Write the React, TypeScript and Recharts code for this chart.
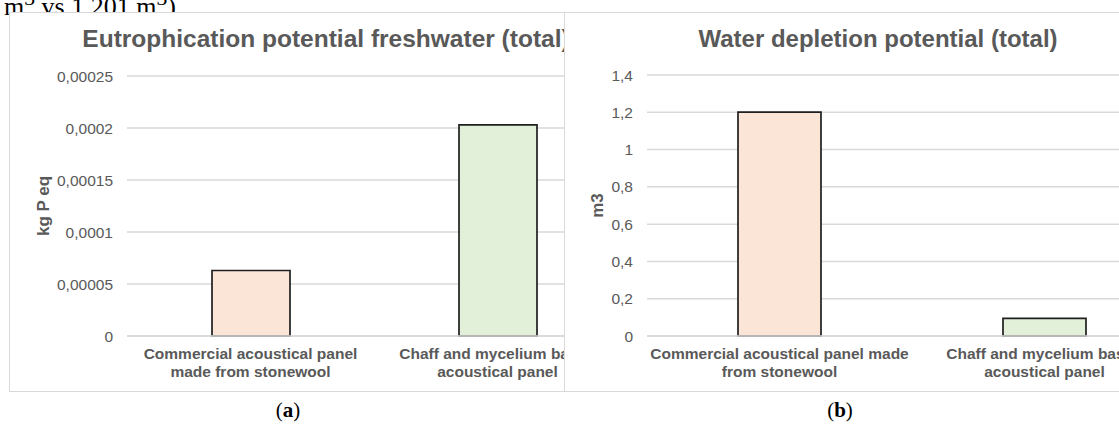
import React from "react";
import { BarChart, Bar, XAxis, YAxis, CartesianGrid, Cell } from "recharts";

// Products compared in both panels
const products = ["Stonewool panel", "Chaff and mycelium panel"];

// How each panel wraps its category labels
const labelsA = [
  ["Commercial acoustical panel", "made from stonewool"],
  ["Chaff and mycelium based", "acoustical panel"],
];
const labelsB = [
  ["Commercial acoustical panel made", "from stonewool"],
  ["Chaff and mycelium based", "acoustical panel"],
];

// Series values
const eutrophication = [0.000063, 0.000203]; // kg P eq
const waterDepletion = [1.201, 0.095]; // m3

// Axis ticks
const ticksA = [0, 0.00005, 0.0001, 0.00015, 0.0002, 0.00025];
const ticksB = [0, 0.2, 0.4, 0.6, 0.8, 1, 1.2, 1.4];

const barColors = ["#FBE5D6", "#E2F0D9"];

const FONT = '"Liberation Sans", Arial, sans-serif';
const SERIF = '"Liberation Serif", "Times New Roman", serif';
const GREY = "#595959";

const dataA = products.map((name, i) => ({ name, value: eutrophication[i] }));
const dataB = products.map((name, i) => ({ name, value: waterDepletion[i] }));

// decimal comma like the original spreadsheet
const commaFormat = (v: number) => String(v).replace(".", ",");

function CategoryTick(props: any) {
  const { x, y, payload, labels } = props;
  const lines: string[] = labels[payload.index] || [payload.value];
  return (
    <text
      x={x}
      y={y}
      textAnchor="middle"
      fill={GREY}
      fontFamily={FONT}
      fontSize={15.5}
      fontWeight="bold"
    >
      {lines.map((line, i) => (
        <tspan key={i} x={x} y={y + 23 + i * 18}>
          {line}
        </tspan>
      ))}
    </text>
  );
}

type PanelProps = {
  title: string;
  titleX: number;
  titleSize: number;
  unit: string;
  data: { name: string; value: number }[];
  labels: string[][];
  ticks: number[];
  width: number;
  top: number;
  right: number;
  yWidth: number;
  barSize: number;
  unitOffset: number;
};

function Panel({
  title,
  titleX,
  titleSize,
  unit,
  data,
  labels,
  ticks,
  width,
  top,
  right,
  yWidth,
  barSize,
  unitOffset,
}: PanelProps) {
  return (
    <BarChart
      width={width}
      height={379}
      data={data}
      margin={{ top, right, left: 0, bottom: 0 }}
    >
      <text
        x={titleX}
        y={35}
        textAnchor="middle"
        fill={GREY}
        fontFamily={FONT}
        fontSize={titleSize}
        fontWeight="bold"
      >
        {title}
      </text>
      <CartesianGrid vertical={false} stroke="#D9D9D9" strokeWidth={1.5} />
      <XAxis
        dataKey="name"
        height={55}
        tickLine={false}
        tickSize={0}
        tickMargin={0}
        axisLine={{ stroke: "#D9D9D9", strokeWidth: 1.5 }}
        interval={0}
        tick={(p: any) => <CategoryTick {...p} labels={labels} />}
      />
      <YAxis
        width={yWidth}
        domain={[ticks[0], ticks[ticks.length - 1]]}
        ticks={ticks}
        interval={0}
        axisLine={false}
        tickLine={false}
        tickSize={0}
        tickMargin={14}
        tickFormatter={commaFormat}
        tick={{ fill: GREY, fontSize: 15.5, fontFamily: FONT }}
        label={{
          value: unit,
          angle: -90,
          position: "insideLeft",
          offset: unitOffset,
          style: {
            textAnchor: "middle",
            fill: GREY,
            fontSize: 17,
            fontWeight: "bold",
            fontFamily: FONT,
          },
        }}
      />
      <Bar
        dataKey="value"
        barSize={barSize}
        stroke="#1F1F1F"
        strokeWidth={1.7}
        isAnimationActive={false}
      >
        {data.map((_, i) => (
          <Cell key={i} fill={barColors[i]} />
        ))}
      </Bar>
    </BarChart>
  );
}

const frame: React.CSSProperties = {
  position: "absolute",
  top: 12,
  height: 380,
  overflow: "hidden",
  boxSizing: "border-box",
  border: "1px solid #D9D9D9",
  background: "#fff",
};

const caption: React.CSSProperties = {
  position: "absolute",
  width: 100,
  top: 400,
  textAlign: "center",
  fontFamily: SERIF,
  fontSize: 21,
  lineHeight: "21px",
};

export default function App() {
  return (
    <div
      style={{
        position: "fixed",
        left: 0,
        top: 0,
        width: 1119,
        height: 425,
        overflow: "hidden",
        background: "#fff",
      }}
    >
      <div
        style={{
          position: "absolute",
          left: 4,
          top: -15,
          fontFamily: SERIF,
          fontSize: 26,
          lineHeight: "26px",
          whiteSpace: "nowrap",
        }}
      >
        m<sup>3</sup> vs 1.201 m<sup>3</sup>).
      </div>

      <div style={{ ...frame, left: 9, width: 557 }}>
        <div style={{ position: "absolute", left: -1, top: -1 }}>
          <Panel
            title="Eutrophication potential freshwater (total)"
            titleX={317}
            titleSize={24.5}
            unit="kg P eq"
            data={dataA}
            labels={labelsA}
            ticks={ticksA}
            width={626}
            top={64}
            right={14}
            yWidth={118}
            barSize={78}
            unitOffset={34}
          />
        </div>
      </div>

      <div style={{ ...frame, left: 564, width: 600 }}>
        <div style={{ position: "absolute", left: -1, top: -1 }}>
          <Panel
            title="Water depletion potential (total)"
            titleX={314}
            titleSize={24}
            unit="m3"
            data={dataB}
            labels={labelsB}
            ticks={ticksB}
            width={630}
            top={63}
            right={17}
            yWidth={83}
            barSize={83}
            unitOffset={33}
          />
        </div>
      </div>

      <div style={{ ...caption, left: 238 }}>
        (<b>a</b>)
      </div>
      <div style={{ ...caption, left: 790 }}>
        (<b>b</b>)
      </div>
    </div>
  );
}
